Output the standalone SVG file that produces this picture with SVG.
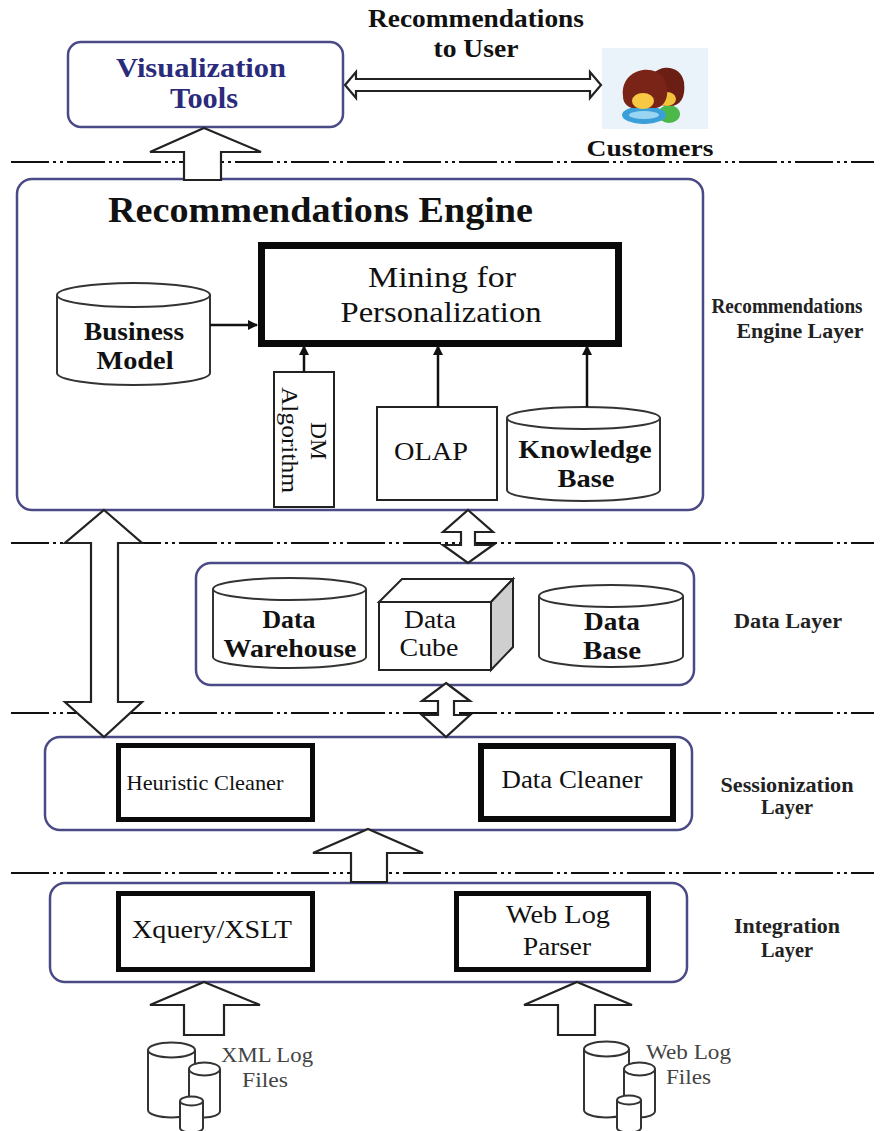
<svg xmlns="http://www.w3.org/2000/svg" width="889" height="1131" viewBox="0 0 889 1131">
  <defs>
    <marker id="tip" viewBox="0 0 10 10" refX="9" refY="5" markerWidth="4" markerHeight="4" orient="auto">
      <path d="M0,0 L10,5 L0,10 z" fill="#111"/>
    </marker>
    <style>
      text { font-family: "Liberation Serif", "Times New Roman", serif; fill: #111; }
      .b { font-weight: bold; }
      .mid { text-anchor: middle; }
      .layer { fill: #fff; stroke: #4a4a86; stroke-width: 2.5; }
      .sep { stroke: #111; stroke-width: 2; stroke-dasharray: 38 4 3 4 3 4; fill: none; }
      .block { fill: #fff; stroke: #222; stroke-width: 2.2; stroke-linejoin: miter; }
      .thin { fill: #fff; stroke: #222; stroke-width: 2; }
      .heavy { fill: #fff; stroke: #0a0a0a; }
      .cyl { fill: #fff; stroke: #333; stroke-width: 2; }
      .link { stroke: #111; stroke-width: 2.5; fill: none; marker-end: url(#tip); }
      .side { font-weight: bold; font-size: 20px; text-anchor: middle; fill: #222; }
      .files { font-size: 20px; fill: #444; }
    </style>
  </defs>
  <rect width="889" height="1131" fill="#fff"/>

  <!-- layer separators -->
  <g id="separators">
    <line class="sep" x1="11" y1="162" x2="874" y2="162"/>
    <line class="sep" x1="11" y1="543" x2="874" y2="543"/>
    <line class="sep" x1="11" y1="713" x2="874" y2="713"/>
    <line class="sep" x1="11" y1="873" x2="874" y2="873"/>
  </g>

  <!-- top: recommendations to user -->
  <text class="b mid" x="476" y="27" font-size="26" textLength="216" lengthAdjust="spacingAndGlyphs">Recommendations</text>
  <text class="b mid" x="476" y="57" font-size="26" textLength="85" lengthAdjust="spacingAndGlyphs">to User</text>

  <g id="visualization-tools">
    <rect class="layer" x="68" y="42" width="275" height="85" rx="13"/>
    <text class="b mid" x="201" y="77" font-size="28" style="fill:#2b2b7c" textLength="170" lengthAdjust="spacingAndGlyphs">Visualization</text>
    <text class="b mid" x="204" y="108" font-size="29" style="fill:#2b2b7c" textLength="68" lengthAdjust="spacingAndGlyphs">Tools</text>
  </g>

  <g id="customers">
    <rect x="602" y="48" width="106" height="81" fill="#eaf3f9"/>
    <!-- back person -->
    <ellipse cx="669" cy="114" rx="11" ry="9" fill="#4cb84a"/>
    <path d="M648,90 C646,64 680,60 684,82 C686,98 680,106 670,106 C656,106 648,100 648,90 z" fill="#6b1e14"/>
    <ellipse cx="667" cy="99" rx="9" ry="7" fill="#f2c23a"/>
    <!-- front person -->
    <ellipse cx="644" cy="115" rx="22" ry="9" fill="#3a9fd8"/>
    <ellipse cx="644" cy="115" rx="15" ry="4" fill="#9ad6f2"/>
    <path d="M623,96 C620,70 652,62 664,78 C670,90 668,106 656,108 L632,108 C626,106 623,102 623,96 z" fill="#7a2418"/>
    <ellipse cx="643" cy="101" rx="11" ry="8" fill="#f6c844"/>
    <text class="b mid" x="650" y="156" font-size="24" textLength="127" lengthAdjust="spacingAndGlyphs">Customers</text>
  </g>

  <!-- recommendations engine layer -->
  <g id="recommendations-engine">
    <rect class="layer" x="17" y="179" width="686" height="331" rx="15"/>
    <text class="b" x="108" y="222" font-size="36" textLength="425" lengthAdjust="spacingAndGlyphs">Recommendations Engine</text>
  </g>

  <g id="mining">
    <rect class="heavy" x="261.5" y="245.5" width="357" height="98" stroke-width="7"/>
    <text class="mid" x="442" y="287" font-size="30" textLength="148" lengthAdjust="spacingAndGlyphs">Mining for</text>
    <text class="mid" x="441" y="322" font-size="30" textLength="201" lengthAdjust="spacingAndGlyphs">Personalization</text>
  </g>

  <g id="business-model">
    <path class="cyl" d="M57,295 V373 A76.5,12 0 0 0 210,373 V295"/>
    <ellipse class="cyl" cx="133.5" cy="295" rx="76.5" ry="12"/>
    <text class="b mid" x="134" y="340" font-size="26" textLength="100" lengthAdjust="spacingAndGlyphs">Business</text>
    <text class="b mid" x="135" y="369" font-size="26" textLength="77" lengthAdjust="spacingAndGlyphs">Model</text>
  </g>

  <g id="dm-algorithm">
    <rect class="thin" x="274" y="372" width="60" height="135"/>
    <text x="311" y="422" font-size="24" transform="rotate(90 311 422)" textLength="38" lengthAdjust="spacingAndGlyphs">DM</text>
    <text x="282" y="387" font-size="24" transform="rotate(90 282 387)" textLength="106" lengthAdjust="spacingAndGlyphs">Algorithm</text>
  </g>

  <g id="olap">
    <rect class="thin" x="377" y="407" width="120" height="93"/>
    <text class="mid" x="431" y="460" font-size="25" textLength="74" lengthAdjust="spacingAndGlyphs">OLAP</text>
  </g>

  <g id="knowledge-base">
    <path class="cyl" d="M507,418 V490 A76.5,11 0 0 0 660,490 V418"/>
    <ellipse class="cyl" cx="583.5" cy="418" rx="76.5" ry="11"/>
    <text class="b mid" x="585" y="458" font-size="26" textLength="133" lengthAdjust="spacingAndGlyphs">Knowledge</text>
    <text class="b mid" x="586" y="487" font-size="26" textLength="57" lengthAdjust="spacingAndGlyphs">Base</text>
  </g>

  <text class="side" x="787" y="313" font-size="19" textLength="151" lengthAdjust="spacingAndGlyphs">Recommendations</text>
  <text class="side" x="800" y="338" textLength="127" lengthAdjust="spacingAndGlyphs">Engine Layer</text>

  <!-- data layer -->
  <g id="data-layer">
    <rect class="layer" x="196" y="563" width="498" height="122" rx="15"/>
  </g>

  <g id="data-warehouse">
    <path class="cyl" d="M213,589 V657 A76.5,11 0 0 0 366,657 V589"/>
    <ellipse class="cyl" cx="289.5" cy="589" rx="76.5" ry="11"/>
    <text class="b mid" x="289" y="628" font-size="26" textLength="53" lengthAdjust="spacingAndGlyphs">Data</text>
    <text class="b mid" x="290" y="657" font-size="26" textLength="133" lengthAdjust="spacingAndGlyphs">Warehouse</text>
  </g>

  <g id="data-cube">
    <polygon class="thin" points="379,602 402,579 513,579 491,602"/>
    <polygon points="491,602 513,579 513,647 491,670" fill="#cfcfcf" stroke="#222" stroke-width="2"/>
    <rect class="thin" x="379" y="602" width="112" height="68"/>
    <text class="mid" x="430" y="628" font-size="25" textLength="52" lengthAdjust="spacingAndGlyphs">Data</text>
    <text class="mid" x="429" y="656" font-size="25" textLength="59" lengthAdjust="spacingAndGlyphs">Cube</text>
  </g>

  <g id="data-base">
    <path class="cyl" d="M539,596 V656 A72,11 0 0 0 683,656 V596"/>
    <ellipse class="cyl" cx="611" cy="596" rx="72" ry="11"/>
    <text class="b mid" x="612" y="630" font-size="26" textLength="56" lengthAdjust="spacingAndGlyphs">Data</text>
    <text class="b mid" x="612" y="659" font-size="26" textLength="58" lengthAdjust="spacingAndGlyphs">Base</text>
  </g>

  <text class="side" x="788" y="628" textLength="108" lengthAdjust="spacingAndGlyphs">Data Layer</text>

  <!-- sessionization layer -->
  <g id="sessionization">
    <rect class="layer" x="45" y="737" width="647" height="93" rx="15"/>
  </g>
  <g id="heuristic-cleaner">
    <rect class="heavy" x="118.5" y="745.5" width="194" height="74" stroke-width="5"/>
    <text class="mid" x="205" y="790" font-size="22" textLength="157" lengthAdjust="spacingAndGlyphs">Heuristic Cleaner</text>
  </g>
  <g id="data-cleaner">
    <rect class="heavy" x="481" y="746" width="192" height="73" stroke-width="6"/>
    <text class="mid" x="572" y="788" font-size="25" textLength="141" lengthAdjust="spacingAndGlyphs">Data Cleaner</text>
  </g>
  <text class="side" x="787" y="792" textLength="133" lengthAdjust="spacingAndGlyphs">Sessionization</text>
  <text class="side" x="787" y="814" textLength="52" lengthAdjust="spacingAndGlyphs">Layer</text>

  <!-- integration layer -->
  <g id="integration">
    <rect class="layer" x="50" y="883" width="637" height="99" rx="15"/>
  </g>
  <g id="xquery-xslt">
    <rect class="heavy" x="118.5" y="893.5" width="194" height="76" stroke-width="5"/>
    <text class="mid" x="212" y="938" font-size="26" textLength="160" lengthAdjust="spacingAndGlyphs">Xquery/XSLT</text>
  </g>
  <g id="web-log-parser">
    <rect class="heavy" x="456.5" y="893.5" width="192" height="76" stroke-width="5"/>
    <text class="mid" x="558" y="923" font-size="26" textLength="104" lengthAdjust="spacingAndGlyphs">Web Log</text>
    <text class="mid" x="557" y="955" font-size="26" textLength="68" lengthAdjust="spacingAndGlyphs">Parser</text>
  </g>
  <text class="side" x="787" y="933" textLength="106" lengthAdjust="spacingAndGlyphs">Integration</text>
  <text class="side" x="787" y="957" textLength="52" lengthAdjust="spacingAndGlyphs">Layer</text>

  <!-- log file sources -->
  <g id="xml-log-files">
    <path class="cyl" d="M148,1050 V1110 A23.5,7.5 0 0 0 195,1110 V1050"/>
    <ellipse class="cyl" cx="171.5" cy="1050" rx="23.5" ry="7.5"/>
    <path class="cyl" d="M189,1069 V1111 A15.5,6.5 0 0 0 220,1111 V1069"/>
    <ellipse class="cyl" cx="204.5" cy="1069" rx="15.5" ry="6.5"/>
    <path class="cyl" d="M180,1101 V1128 A11.5,4.5 0 0 0 203,1128 V1101"/>
    <ellipse class="cyl" cx="191.5" cy="1101" rx="11.5" ry="4.5"/>
    <text class="files" x="221" y="1062" textLength="92" lengthAdjust="spacingAndGlyphs">XML Log</text>
    <text class="files" x="242" y="1087" textLength="46" lengthAdjust="spacingAndGlyphs">Files</text>
  </g>
  <g id="web-log-files">
    <path class="cyl" d="M584,1049 V1110 A22.5,7.5 0 0 0 629,1110 V1049"/>
    <ellipse class="cyl" cx="606.5" cy="1049" rx="22.5" ry="7.5"/>
    <path class="cyl" d="M624,1069 V1111 A15.5,6.5 0 0 0 655,1111 V1069"/>
    <ellipse class="cyl" cx="639.5" cy="1069" rx="15.5" ry="6.5"/>
    <path class="cyl" d="M617,1100 V1128 A12,4.5 0 0 0 641,1128 V1100"/>
    <ellipse class="cyl" cx="629" cy="1100" rx="12" ry="4.5"/>
    <text class="files" x="646" y="1059" textLength="85" lengthAdjust="spacingAndGlyphs">Web Log</text>
    <text class="files" x="666" y="1084" textLength="45" lengthAdjust="spacingAndGlyphs">Files</text>
  </g>

  <!-- connectors -->
  <g id="connectors">
    <polygon class="block" points="345,85 356,72 356,79 590,79 590,72 601,85 590,98 590,91 356,91 356,98"/>
    <line x1="358" y1="85" x2="588" y2="85" stroke="#fff" stroke-width="6"/>
    <polygon class="block" points="204,128 261,152 221,152 221,180 184,180 184,152 150,152"/>
    <polygon class="block" points="104,510 142,543 118,543 118,702 142,702 104,737 65,702 91,702 91,543 65,543"/>
    <polygon class="block" points="468,510 493,532 475,532 475,545 493,545 468,563 443,545 461,545 461,532 443,532"/>
    <polygon class="block" points="446,683 470,701 454,701 454,715 470,715 446,737 422,715 438,715 438,701 422,701"/>
    <polygon class="block" points="368,829 423,853 387,853 387,882 351,882 351,853 313,853"/>
    <polygon class="block" points="204,982 260,1005 224,1005 224,1035 184,1035 184,1005 150,1005"/>
    <polygon class="block" points="577,982 632,1005 595,1005 595,1035 558,1035 558,1005 524,1005"/>
    <line class="link" x1="210" y1="325" x2="257" y2="325"/>
    <line class="link" x1="304" y1="372" x2="304" y2="346"/>
    <line class="link" x1="438" y1="407" x2="438" y2="346"/>
    <line class="link" x1="587" y1="407" x2="587" y2="346"/>
  </g>
</svg>
